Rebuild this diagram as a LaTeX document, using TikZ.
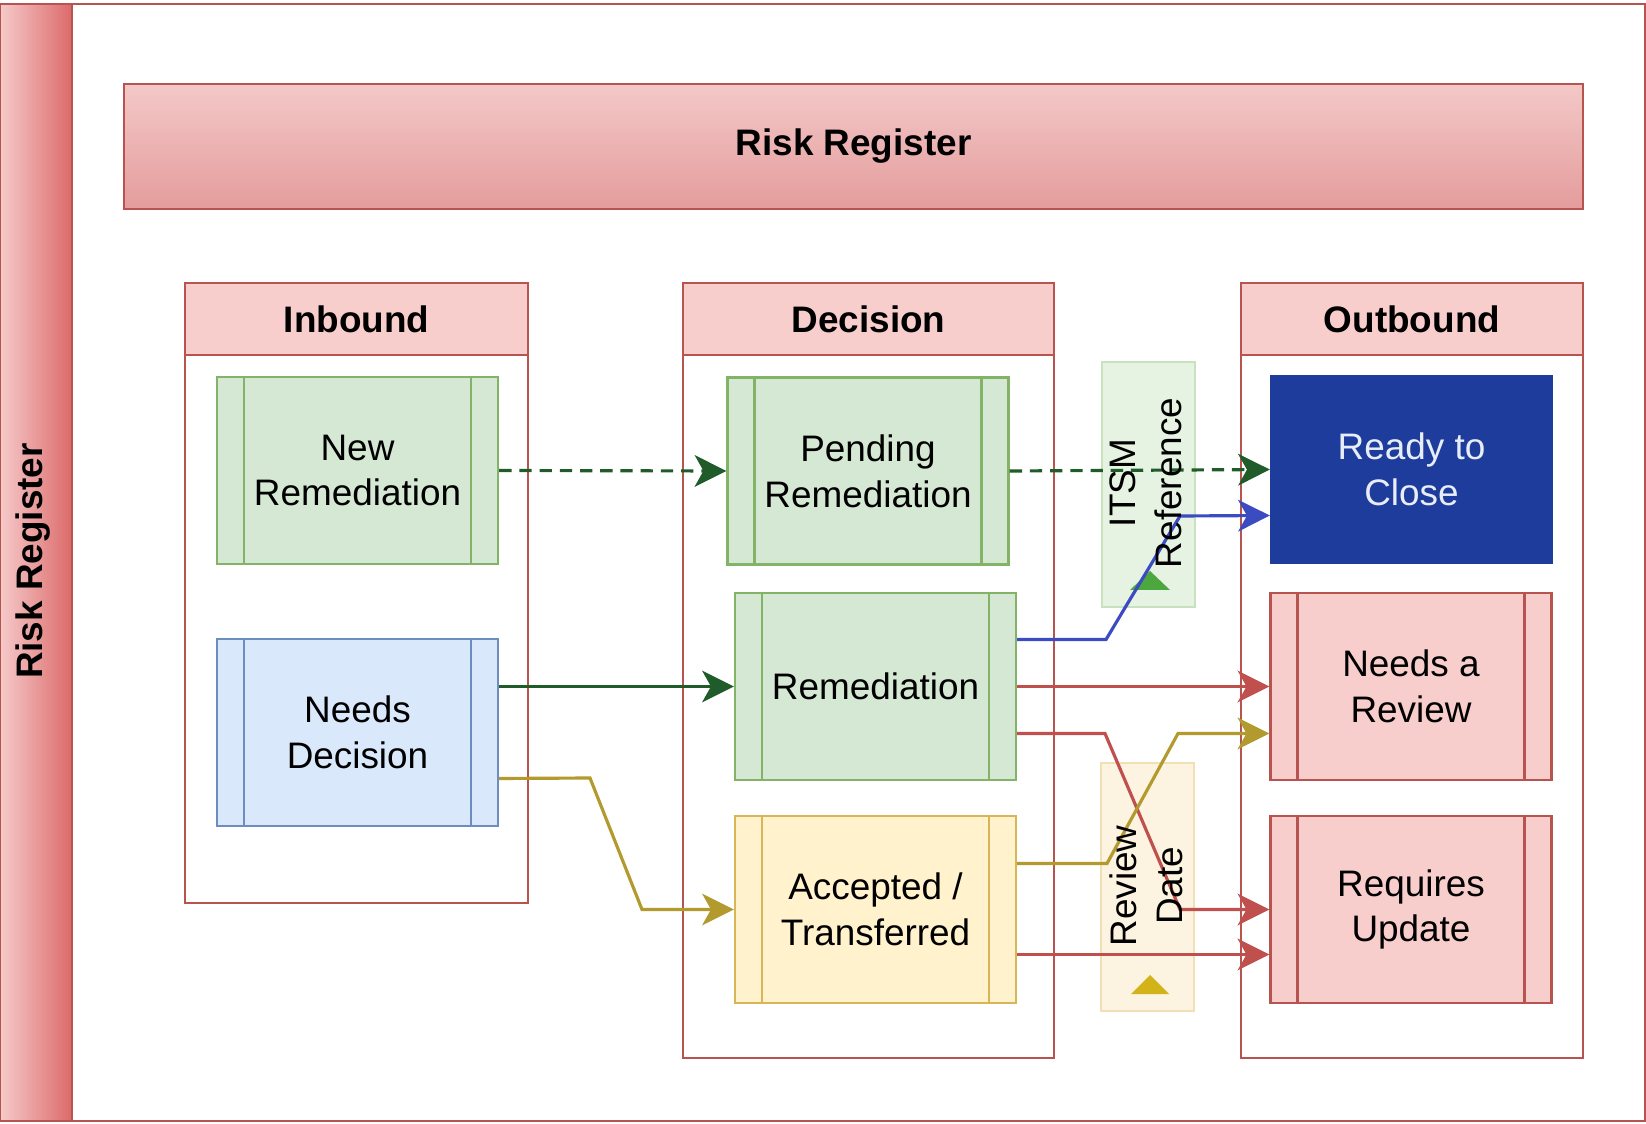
\documentclass[tikz,border=0pt]{standalone}
\usepackage{fontspec}
\setmainfont{Liberation Sans}
\usepackage[dvipsnames]{xcolor}
\usepackage{tikz}
\usetikzlibrary{arrows,shapes,positioning,calc,fit,arrows.meta}

\definecolor{redline}{HTML}{B85450}
\definecolor{redfill}{HTML}{F8CECC}
\definecolor{redtop}{HTML}{F4C8C8}
\definecolor{redbottom}{HTML}{E49C9C}
\definecolor{stripleft}{HTML}{F6CACA}
\definecolor{stripright}{HTML}{DC6A6A}
\definecolor{greenline}{HTML}{82B366}
\definecolor{greenfill}{HTML}{D5E8D4}
\definecolor{blueline}{HTML}{6C8EBF}
\definecolor{bluefill}{HTML}{DAE8FC}
\definecolor{yellowline}{HTML}{D6B656}
\definecolor{yellowfill}{HTML}{FFF2CC}
\definecolor{readyfill}{HTML}{1E3C9C}
\definecolor{readytext}{HTML}{E8EEF8}
\definecolor{flowgreen}{HTML}{1F5C29}
\definecolor{flowolive}{HTML}{B39A2E}
\definecolor{flowblue}{HTML}{3B4CC0}
\definecolor{flowred}{HTML}{C0504D}
\definecolor{itsmfill}{HTML}{E6F2E2}
\definecolor{itsmline}{HTML}{C8E2BE}
\definecolor{itsmmark}{HTML}{4CA83E}
\definecolor{datefill}{HTML}{FCF3E0}
\definecolor{dateline}{HTML}{F2E0B5}
\definecolor{datemark}{HTML}{D2B41A}

\newcommand{\procbars}[2]
{
	\draw[#2] ([xshift=0.56cm]#1.north west) -- ([xshift=0.56cm]#1.south west)
		([xshift=-0.56cm]#1.north east) -- ([xshift=-0.56cm]#1.south east)
}

\begin{document}
\begin{tikzpicture}[x=0.02cm, y=-0.02cm,
			font=\fontsize{21}{26}\selectfont,
			proc/.append style={shape=rectangle,
				line width=1.4pt,
				align=center,
				inner sep=0,
			minimum width=5.62cm,
			minimum height=3.74cm},
			pool/.style={shape=rectangle, draw=redline, line width=1.4pt, inner sep=0},
			poolhead/.style={shape=rectangle, draw=redline, fill=redfill, line width=1.4pt,
				inner sep=0, minimum height=1.44cm, font=\fontsize{21}{26}\selectfont\bfseries},
			tag/.style={shape=rectangle, line width=1pt, inner sep=0,
				minimum width=1.86cm},
			tagtext/.style={rotate=90, align=center, inner sep=0},
			flow/.style={line width=1.8pt, -{Stealth[length=18pt,width=18pt,inset=5pt]}},
			connection/.style ={inner sep =0, outer sep =0}]
			
			\useasboundingbox (0,0) rectangle (1646,1124);
			
			% frame and title bars
			\draw[redline, line width=1pt] (0,4) rectangle (1645,1121);
			\node[shape=rectangle, draw=redline, line width=1pt, left color=stripleft, right color=stripright,
				minimum width=1.44cm, minimum height=22.34cm, inner sep=0] at (36, 562.5) (strip){};
			\node[rotate=90, font=\fontsize{21}{26}\selectfont\bfseries] at (33, 561) (striptxt){Risk Register};
			\node[shape=rectangle, draw=redline, line width=1.4pt, top color=redtop, bottom color=redbottom,
				minimum width=29.18cm, minimum height=2.5cm, font=\fontsize{21}{26}\selectfont\bfseries] at (853.5, 146.5) (register){Risk Register};
			
			% lanes
			\node[pool, minimum width=6.86cm, minimum height=12.4cm] at (356.5, 593) (inpool){};
			\node[poolhead, minimum width=6.86cm, anchor=north] at (inpool.north) (inhead){Inbound};
			\node[pool, minimum width=7.42cm, minimum height=15.5cm] at (868.5, 670.5) (decpool){};
			\node[poolhead, minimum width=7.42cm, anchor=north] at (decpool.north) (dechead){Decision};
			\node[pool, minimum width=6.84cm, minimum height=15.5cm] at (1412, 670.5) (outpool){};
			\node[poolhead, minimum width=6.84cm, anchor=north] at (outpool.north) (outhead){Outbound};
			
			\node[tag, draw=itsmline, fill=itsmfill, minimum height=4.9cm] at (1148.5, 484.5) (itsm){};
			\node[tag, draw=dateline, fill=datefill, minimum height=4.96cm] at (1147.5, 887) (revdate){};
			\fill[itsmmark] (1130,590) -- (1170,590) -- (1150,571) -- cycle;
			\fill[datemark] (1131,994) -- (1169,994) -- (1150,975) -- cycle;
			
			% steps
			\node[proc, draw=greenline, fill=greenfill] at (357.5, 470.5) (newrem){New\\Remediation};
			\node[proc, draw=blueline, fill=bluefill] at (357.5, 732.5) (needdec){Needs\\Decision};
			\node[proc, draw=greenline, fill=greenfill] at (868, 471) (pending){Pending\\Remediation};
			\node[proc, draw=greenline, fill=greenfill] at (875.5, 686.5) (remed){Remediation};
			\node[proc, draw=yellowline, fill=yellowfill] at (875.5, 909.5) (accept){Accepted /\\Transferred};
			\node[proc, draw=readyfill, fill=readyfill, text=readytext] at (1411.5, 469.5) (ready){Ready to\\Close};
			\node[proc, draw=redline, fill=redfill] at (1411, 686.5) (review){Needs a\\Review};
			\node[proc, draw=redline, fill=redfill] at (1411, 909.5) (update){Requires\\Update};
			
			\procbars{newrem}{greenline, line width=1.4pt};
			\procbars{needdec}{blueline, line width=1.4pt};
			\procbars{pending}{greenline, line width=1.4pt};
			\procbars{remed}{greenline, line width=1.4pt};
			\procbars{accept}{yellowline, line width=1.4pt};
			\procbars{review}{redline, line width=1.4pt};
			\procbars{update}{redline, line width=1.4pt};
			
			% flows
			\draw[flow, flowgreen, dash pattern=on 7pt off 4.5pt] (newrem.east) -- (pending.west);
			\draw[flow, flowgreen, dash pattern=on 7pt off 4.5pt] (pending.east) -- (ready.west);
			\draw[flow, flowgreen] (needdec.east |- remed.west) -- (remed.west);
			\draw[flow, flowolive] ([yshift=-0.92cm]needdec.east) -- (590, 778) -- (642, 909.5) -- (accept.west);
			\draw[flow, flowblue] ([yshift=0.94cm]remed.east) -- (1106, 639.5) -- (1180, 516) -- ([yshift=-0.92cm]ready.west);
			\draw[flow, flowred] (remed.east) -- (review.west);
			\draw[flow, flowred] ([yshift=-0.94cm]remed.east) -- (1105, 733.5) -- (1180, 909.5) -- (update.west);
			\draw[flow, flowolive] ([yshift=0.92cm]accept.east) -- (1107, 863.5) -- (1178, 733.5) -- ([yshift=-0.94cm]review.west);
			\draw[flow, flowred] ([yshift=-0.9cm]accept.east) -- ([yshift=-0.9cm]update.west);
			
			\node[tagtext] at (1146, 483) (itsmtxt){ITSM\\Reference};
			\node[tagtext] at (1146, 886) (datetxt){Review\\Date};
		\end{tikzpicture}
\end{document}
